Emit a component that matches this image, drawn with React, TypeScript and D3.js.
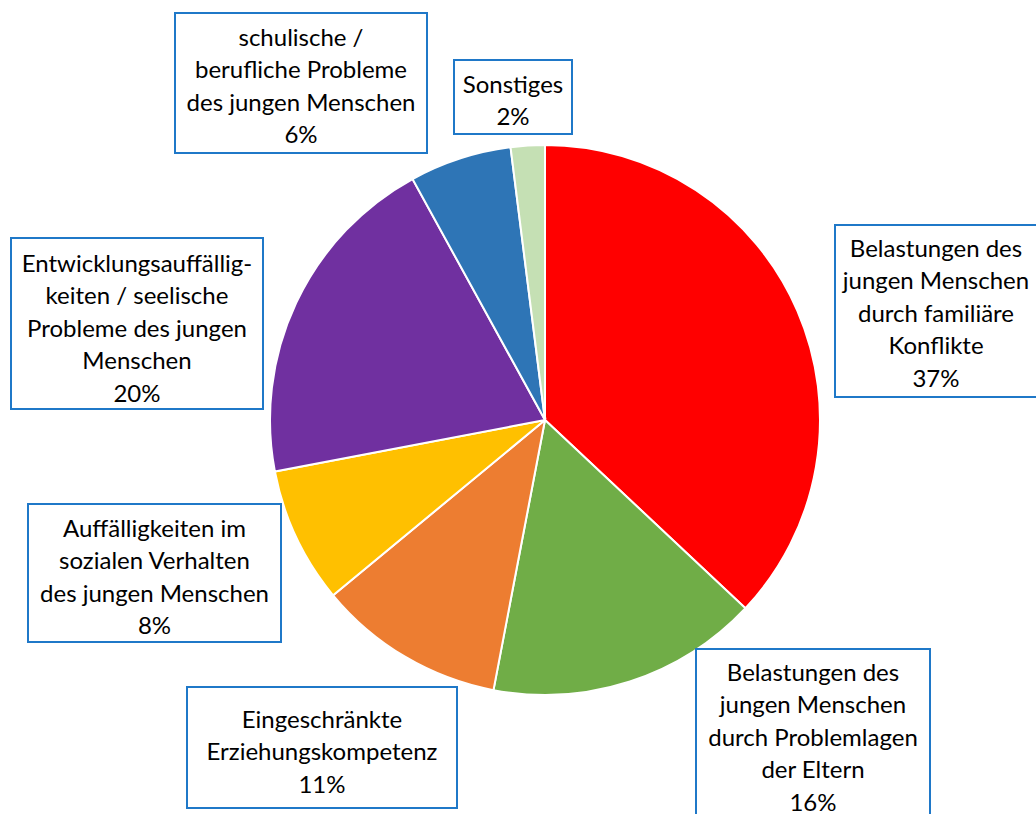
import * as d3 from 'd3';

const categories = [
  'Belastungen familiäre Konflikte',
  'Belastungen Problemlagen der Eltern',
  'Eingeschränkte Erziehungskompetenz',
  'Auffälligkeiten im sozialen Verhalten',
  'Entwicklungsauffälligkeiten',
  'schulische / berufliche Probleme',
  'Sonstiges',
];
const values = [37, 16, 11, 8, 20, 6, 2];
const colors = ['#FF0000', '#70AD47', '#ED7D31', '#FFC000', '#7030A0', '#2E75B6', '#C5E0B4'];
const labelLines = [
  ['Belastungen des', 'jungen Menschen', 'durch familiäre', 'Konflikte', '37%'],
  ['Belastungen des', 'jungen Menschen', 'durch Problemlagen', 'der Eltern', '16%'],
  ['Eingeschränkte', 'Erziehungskompetenz', '11%'],
  ['Auffälligkeiten im', 'sozialen Verhalten', 'des jungen Menschen', '8%'],
  ['Entwicklungsauffällig-', 'keiten / seelische', 'Probleme des jungen', 'Menschen', '20%'],
  ['schulische /', 'berufliche Probleme', 'des jungen Menschen', '6%'],
  ['Sonstiges', '2%'],
];
// label boxes: x, y, w, h
const boxes = [
  [835, 225, 210, 172],
  [696, 649, 234, 175],
  [187, 687, 270, 121],
  [28, 504, 253, 138],
  [11, 238, 252, 171],
  [175, 13, 252, 140],
  [454, 60, 118, 74],
];
const firstLine = [247, 671, 718, 527, 262, 36, 83];

const W = 1036;
const H = 814;
const CX = 545;
const CY = 420;
const R = 275;
const LINE = 32.5;

export default function App() {
  const pie = d3.pie<number>().sort(null).value(d => d);
  const arcs = pie(values);
  const arc = d3.arc<d3.PieArcDatum<number>>().innerRadius(0).outerRadius(R);

  return (
    <svg
      width={W}
      height={H}
      style={{ position: 'absolute', left: 0, top: 0, display: 'block', background: '#fff' }}
      fontFamily="Lato, 'Open Sans', sans-serif"
    >
      <g transform={`translate(${CX}, ${CY})`}>
        {arcs.map((a, i) => (
          <path key={categories[i]} d={arc(a) || ''} fill={colors[i]} stroke="#fff" strokeWidth={2} />
        ))}
      </g>
      {boxes.map(([x, y, w, h], i) => (
        <g key={'lab' + i}>
          <rect x={x} y={y} width={w} height={h} fill="#fff" stroke="#1F78C8" strokeWidth={2} />
          {labelLines[i].map((t, j) => (
            <text
              key={j}
              x={x + w / 2 + (i === 0 ? -4 : 0)}
              y={firstLine[i] + j * LINE}
              textAnchor="middle"
              dominantBaseline="central"
              fontSize={24}
              fill="#000"
            >
              {t}
            </text>
          ))}
        </g>
      ))}
    </svg>
  );
}
